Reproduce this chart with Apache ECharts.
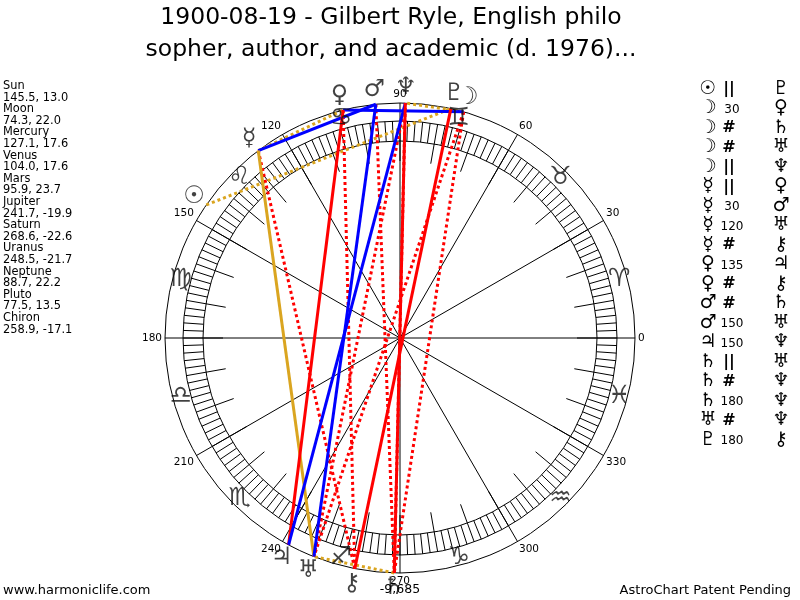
<!DOCTYPE html>
<html><head><meta charset="utf-8">
<script src="https://cdn.jsdelivr.net/npm/echarts@6/dist/echarts.min.js"></script>
<style>html,body{margin:0;padding:0;background:#fff}#c{width:800px;height:600px}</style>
</head><body><div id="c"></div>
<script>
// ---------------- data ----------------
const titleLines = ['1900-08-19 - Gilbert Ryle, English philo', 'sopher, author, and academic (d. 1976)...'];
const planetNames = ['Sun','Moon','Mercury','Venus','Mars','Jupiter','Saturn','Uranus','Neptune','Pluto','Chiron'];
const planetGlyphs = ['☉','☽','☿','♀','♂','♃','♄','♅','♆','♇','⚷'];
const planetLon = [145.5, 74.3, 127.1, 104.0, 95.9, 241.7, 268.6, 248.5, 88.7, 77.5, 258.9];
const planetDec = ['13.0','22.0','17.6','17.6','23.7','-19.9','-22.6','-21.7','22.2','13.5','-17.1'];
const signGlyphs = ['♈','♉','♊','♋','♌','♍','♎','♏','♐','♑','♒','♓'];
const aspectFrom = ['Sun','Moon','Moon','Moon','Moon','Mercury','Mercury','Mercury','Mercury','Venus','Venus','Mars','Mars','Jupiter','Saturn','Saturn','Saturn','Uranus','Pluto'];
const aspectType = ['||','30','#','#','||','||','30','120','#','135','#','#','150','150','||','#','180','#','180'];
const aspectTo   = ['Pluto','Venus','Saturn','Uranus','Neptune','Venus','Mars','Uranus','Chiron','Jupiter','Chiron','Saturn','Uranus','Neptune','Uranus','Neptune','Neptune','Neptune','Chiron'];
const bottomNote = '-9,685';
const footerLeft = 'www.harmoniclife.com';
const footerRight = 'AstroChart Patent Pending';

// ---------------- layout / style ----------------
const CX = 400, CY = 338;
const R_OUT = 235, R_RING_OUT = 217, R_RING_IN = 197, R_DATA = 260;
const R_PLANET = 250, R_SIGN = 227, R_ASPECT = 235;
const FONT = 'DejaVu Sans';
const RED = '#ff0000', BLUE = '#0000ff', GOLD = '#daa520';
const aspectStyle = {
  '30':  {color: BLUE, type: 'solid'},
  '150': {color: BLUE, type: 'solid'},
  '120': {color: GOLD, type: 'solid'},
  '135': {color: RED,  type: 'solid'},
  '180': {color: RED,  type: 'solid'},
  '||':  {color: GOLD, type: [3, 3]},
  '#':   {color: RED,  type: [3, 3]}
};

const idx = n => planetNames.indexOf(n);

function angAxis(polarIndex, interval, extra) {
  return Object.assign({
    polarIndex, type: 'value', min: 0, max: 360, interval,
    startAngle: 0, clockwise: false,
    axisLine: {show: false}, axisTick: {show: false},
    axisLabel: {show: false}, splitLine: {show: false}
  }, extra || {});
}
function radAxis(polarIndex, max) {
  return {polarIndex, type: 'value', min: 0, max, show: false,
    axisLine: {show: false}, axisTick: {show: false}, axisLabel: {show: false}, splitLine: {show: false}};
}
const black1 = {color: '#000', width: 1};

const polar = [
  {center: [CX, CY], radius: R_OUT},
  {center: [CX, CY], radius: R_RING_OUT},
  {center: [CX, CY], radius: R_RING_IN},
  {center: [CX, CY], radius: R_DATA}
];
const angleAxis = [
  angAxis(0, 30, {
    axisLine: {show: true, lineStyle: black1},
    splitLine: {show: true, lineStyle: black1},
    axisLabel: {show: true, margin: 3, fontSize: 10.5, fontFamily: FONT, color: '#000',
      formatter: v => (v >= 360 ? '' : String(v))}
  }),
  angAxis(1, 2, {
    axisLine: {show: true, lineStyle: black1},
    axisTick: {show: true, inside: true, length: R_RING_OUT - R_RING_IN, lineStyle: black1}
  }),
  angAxis(2, 10, {
    axisLine: {show: true, lineStyle: black1},
    axisTick: {show: true, inside: true, length: 20, lineStyle: black1}
  }),
  angAxis(3, 30)
];
const radiusAxis = [radAxis(0, R_OUT), radAxis(1, R_RING_OUT), radAxis(2, R_RING_IN), radAxis(3, R_DATA)];

const series = [];
// aspect chords
aspectFrom.forEach((f, i) => {
  const st = aspectStyle[aspectType[i]];
  series.push({
    type: 'line', coordinateSystem: 'polar', polarIndex: 3, silent: true,
    symbol: 'none', animation: false, z: st.type === 'solid' ? 4 : 3,
    lineStyle: {color: st.color, width: 3, type: st.type, cap: 'butt'},
    data: [[R_ASPECT, planetLon[idx(f)]], [R_ASPECT, planetLon[idx(aspectTo[i])]]]
  });
});
// zodiac sign glyphs
series.push({
  type: 'scatter', coordinateSystem: 'polar', polarIndex: 3, silent: true, animation: false,
  symbolSize: 1, itemStyle: {color: 'rgba(0,0,0,0)'}, z: 5,
  label: {show: true, position: 'inside', formatter: p => p.data.name,
    fontSize: 25, fontFamily: FONT, color: '#111'},
  data: signGlyphs.map((g, k) => ({name: g, value: [R_SIGN, k * 30 + 15]}))
});
// planet glyphs
series.push({
  type: 'scatter', coordinateSystem: 'polar', polarIndex: 3, silent: true, animation: false,
  symbolSize: 1, itemStyle: {color: 'rgba(0,0,0,0)'}, z: 6,
  label: {show: true, position: 'inside', formatter: p => p.data.name,
    fontSize: 24, fontWeight: 'bold', fontFamily: FONT, color: '#111'},
  data: planetGlyphs.map((g, k) => ({name: g, value: [R_PLANET, planetLon[k]]}))
});

// ---------------- text graphics ----------------
function txt(x, y, text, size, align, vAlign, extra) {
  return {type: 'text', x, y, silent: true, z: 10,
    style: Object.assign({text, fontSize: size, fontFamily: FONT, fill: '#000',
      align, textAlign: align, verticalAlign: vAlign, textVerticalAlign: vAlign}, extra || {})};
}
const graphics = [];
graphics.push(txt(391, 18, titleLines[0], 23.5, 'center', 'middle'));
graphics.push(txt(391, 50, titleLines[1], 23.5, 'center', 'middle'));
const leftLines = [];
planetNames.forEach((n, k) => { leftLines.push(n); leftLines.push(planetLon[k].toFixed(1) + ', ' + planetDec[k]); });
leftLines.forEach((l, k) => graphics.push(txt(3, 86 + k * 11.6, l, 11.4, 'left', 'middle')));
aspectFrom.forEach((f, i) => {
  const y = 89 + i * 19.5;
  const t = aspectType[i];
  graphics.push(txt(708, y, planetGlyphs[idx(f)], 19, 'center', 'middle', {fontWeight: 'bold'}));
  const isSym = (t === '||' || t === '#');
  graphics.push(txt(isSym ? 729 : 732, y + (isSym ? 0 : 1), t, isSym ? 16 : 12, 'center', 'middle',
    isSym ? {fontWeight: 'bold'} : {}));
  graphics.push(txt(781, y, planetGlyphs[idx(aspectTo[i])], 19, 'center', 'middle', {fontWeight: 'bold'}));
});
graphics.push(txt(400, 590, bottomNote, 12.5, 'center', 'middle'));
graphics.push(txt(3, 591, footerLeft, 13, 'left', 'middle'));
graphics.push(txt(791, 591, footerRight, 13, 'right', 'middle'));

const chart = echarts.init(document.getElementById('c'));
chart.setOption({
  animation: false,
  backgroundColor: '#fff',
  polar, angleAxis, radiusAxis, series,
  graphic: {elements: graphics}
});
</script>
</body></html>
